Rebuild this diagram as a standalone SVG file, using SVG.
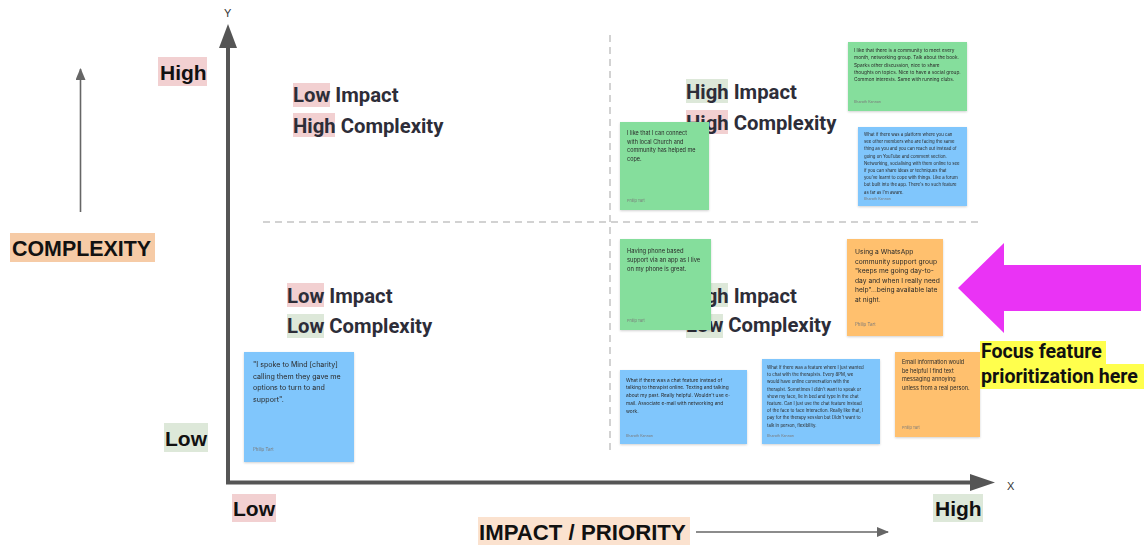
<svg xmlns="http://www.w3.org/2000/svg" width="1144" height="545" viewBox="0 0 1144 545">
  <defs>
    <filter id="shadow" x="-10%" y="-10%" width="120%" height="125%">
      <feDropShadow dx="0" dy="1" stdDeviation="1" flood-color="#000" flood-opacity="0.18"/>
    </filter>
    <marker id="head-small" viewBox="0 0 12 10" refX="11" refY="5" markerWidth="12" markerHeight="10" markerUnits="userSpaceOnUse" orient="auto">
      <path d="M0,0 L12,5 L0,10 Z" fill="#666"/>
    </marker>
  </defs>
  <style>
    .axis { stroke: #555; stroke-width: 4; fill: none; }
    .axis-head { fill: #555; }
    .thin { stroke: #666; stroke-width: 1.6; fill: none; }
    .grid { stroke: #d2d2d2; stroke-width: 2; stroke-dasharray: 7 5; fill: none; }
    .axis-label { font-family: "Liberation Sans", Arial, sans-serif; font-weight: 700; font-size: 21px; fill: #111; }
    .xy { font-family: "Liberation Sans", Arial, sans-serif; font-size: 11px; fill: #333; }
    .quad { font-family: Roboto, "Noto Sans", sans-serif; font-weight: 700; font-size: 20.3px; fill: #2d2d38; }
    .pink { fill: #f2d0d1; }
    .green { fill: #dde8d9; }
    .peach { fill: #f6cba6; }
    .peach-light { fill: #fbe2cf; }
    .note { filter: url(#shadow); }
    .n-green { fill: #85de9c; }
    .n-blue { fill: #80c6fc; }
    .n-orange { fill: #ffc06e; }
    .nt { font-family: Inter, "Noto Sans", sans-serif; fill: #2a2a2a; }
    .au { font-family: Inter, "Noto Sans", sans-serif; fill: #7a7a7a; }
    .focus { font-family: Roboto, "Noto Sans", sans-serif; font-weight: 700; font-size: 19.6px; fill: #111; }
  </style>

  <rect width="1144" height="545" fill="#ffffff"/>

  <!-- quadrant dividers -->
  <g id="grid">
    <line class="grid" x1="610" y1="35" x2="610" y2="455"/>
    <line class="grid" x1="263" y1="222" x2="980" y2="222"/>
  </g>

  <!-- quadrant titles -->
  <g id="quad-low-high">
    <rect class="pink" x="293" y="83" width="37" height="24"/>
    <rect class="pink" x="293" y="113" width="42" height="24"/>
    <text class="quad" x="293" y="102">Low Impact</text>
    <text class="quad" x="293" y="133">High Complexity</text>
  </g>
  <g id="quad-low-low">
    <rect class="pink" x="287" y="283" width="37" height="24"/>
    <rect class="green" x="287" y="314" width="37" height="24"/>
    <text class="quad" x="287" y="303">Low Impact</text>
    <text class="quad" x="287" y="333">Low Complexity</text>
  </g>
  <g id="quad-high-high">
    <rect class="green" x="686" y="79" width="42" height="24"/>
    <rect class="pink" x="686" y="110" width="42" height="24"/>
    <text class="quad" x="686" y="99">High Impact</text>
    <text class="quad" x="686" y="130">High Complexity</text>
  </g>
  <g id="quad-high-low">
    <rect class="green" x="686" y="283" width="42" height="24"/>
    <rect class="green" x="686" y="314" width="37" height="24"/>
    <text class="quad" x="686" y="303">High Impact</text>
    <text class="quad" x="686" y="332">Low Complexity</text>
  </g>

  <!-- axis labels -->
  <g id="label-complexity">
    <rect class="peach" x="10" y="233" width="145" height="29"/>
    <text class="axis-label" x="12" y="256" style="font-size:21.4px">COMPLEXITY</text>
  </g>
  <g id="label-y-high">
    <rect class="pink" x="158" y="57" width="49" height="29"/>
    <text class="axis-label" x="160" y="80">High</text>
  </g>
  <g id="label-y-low">
    <rect class="green" x="164" y="423" width="44" height="29"/>
    <text class="axis-label" x="165" y="446">Low</text>
  </g>
  <g id="label-x-low">
    <rect class="pink" x="232" y="494" width="44" height="28"/>
    <text class="axis-label" x="233" y="516">Low</text>
  </g>
  <g id="label-x-high">
    <rect class="green" x="933" y="494" width="50" height="28"/>
    <text class="axis-label" x="935" y="516">High</text>
  </g>
  <g id="label-impact">
    <rect class="peach-light" x="478" y="517" width="212" height="28"/>
    <text class="axis-label" x="479" y="540" style="font-size:22.2px">IMPACT / PRIORITY</text>
  </g>
  <text class="xy" x="224" y="17">Y</text>
  <text class="xy" x="1007" y="490">X</text>

  <!-- axes and direction arrows -->
  <g id="connectors">
    <path class="axis" d="M228,46 L228,482.5 L972,482.5"/>
    <path class="axis-head" d="M228,24 L237,48 L219,48 Z"/>
    <path class="axis-head" d="M995,482.5 L970,474 L970,491 Z"/>
    <line class="thin" x1="80.5" y1="212" x2="80.5" y2="69" marker-end="url(#head-small)"/>
    <line class="thin" x1="696" y1="532" x2="888" y2="532" marker-end="url(#head-small)"/>
  </g>

  <!-- sticky notes -->
  <g id="note-community" class="note">
    <rect class="n-green" x="848" y="42" width="119" height="69"/>
    <text class="nt" font-size="4.75">
      <tspan x="854" y="52">I like that there is a community to meet every</tspan>
      <tspan x="854" y="59.3">month, networking group. Talk about the book.</tspan>
      <tspan x="854" y="66.6">Sparks other discussion, nice to share</tspan>
      <tspan x="854" y="73.9">thoughts on topics. Nice to have a social group.</tspan>
      <tspan x="854" y="81.2">Common interests. Same with running clubs.</tspan>
    </text>
    <text class="au" font-size="3.6" x="854" y="103">Bharath Kannan</text>
  </g>

  <g id="note-platform" class="note">
    <rect class="n-blue" x="858" y="127" width="109" height="79"/>
    <text class="nt" font-size="4.3">
      <tspan x="864" y="136">What if there was a platform where you can</tspan>
      <tspan x="864" y="143.2">see other members who are facing the same</tspan>
      <tspan x="864" y="150.4">thing as you and you can reach out instead of</tspan>
      <tspan x="864" y="157.6">going on YouTube and comment section.</tspan>
      <tspan x="864" y="164.8">Networking, socialising with them online to see</tspan>
      <tspan x="864" y="172">if you can share ideas or techniques that</tspan>
      <tspan x="864" y="179.2">you've learnt to cope with things. Like a forum</tspan>
      <tspan x="864" y="186.4">but built into the app. There's no such feature</tspan>
      <tspan x="864" y="193.6">as far as I'm aware.</tspan>
    </text>
    <text class="au" font-size="3.6" x="864" y="200">Bharath Kannan</text>
  </g>

  <g id="note-church" class="note">
    <rect class="n-green" x="620" y="122" width="89" height="88"/>
    <text class="nt" font-size="5.5">
      <tspan x="627" y="135">I like that I can connect</tspan>
      <tspan x="627" y="143.7">with local Church and</tspan>
      <tspan x="627" y="152.4">community has helped me</tspan>
      <tspan x="627" y="161.1">cope.</tspan>
    </text>
    <text class="au" font-size="3.8" x="627" y="202">Philip Tart</text>
  </g>

  <g id="note-phone" class="note">
    <rect class="n-green" x="620" y="239" width="91" height="91"/>
    <text class="nt" font-size="5.8">
      <tspan x="627" y="253">Having phone based</tspan>
      <tspan x="627" y="262">support via an app as I live</tspan>
      <tspan x="627" y="271">on my phone is great.</tspan>
    </text>
    <text class="au" font-size="3.8" x="627" y="322">Philip Tart</text>
  </g>

  <g id="note-chat" class="note">
    <rect class="n-blue" x="620" y="370" width="127" height="74"/>
    <text class="nt" font-size="4.8">
      <tspan x="626" y="381.5">What if there was a chat feature instead of</tspan>
      <tspan x="626" y="389.3">talking to therapist online. Texting and talking</tspan>
      <tspan x="626" y="397.1">about my past. Really helpful. Wouldn't use e-</tspan>
      <tspan x="626" y="404.9">mail. Associate e-mail with networking and</tspan>
      <tspan x="626" y="412.7">work.</tspan>
    </text>
    <text class="au" font-size="3.6" x="626" y="437">Bharath Kannan</text>
  </g>

  <g id="note-therapists" class="note">
    <rect class="n-blue" x="762" y="359" width="118" height="85"/>
    <text class="nt" font-size="4.35">
      <tspan x="767" y="369">What if there was a feature where I just wanted</tspan>
      <tspan x="767" y="376.2">to chat with the therapists. Every 8PM, we</tspan>
      <tspan x="767" y="383.4">would have online conversation with the</tspan>
      <tspan x="767" y="390.6">therapist. Sometimes I didn't want to speak or</tspan>
      <tspan x="767" y="397.8">show my face, lie in bed and type in the chat</tspan>
      <tspan x="767" y="405">feature. Can I just use the chat feature instead</tspan>
      <tspan x="767" y="412.2">of the face to face interaction. Really like that, I</tspan>
      <tspan x="767" y="419.4">pay for the therapy session but Didn't want to</tspan>
      <tspan x="767" y="426.6">talk in person, flexibility.</tspan>
    </text>
    <text class="au" font-size="3.6" x="767" y="437">Bharath Kannan</text>
  </g>

  <g id="note-whatsapp" class="note">
    <rect class="n-orange" x="847" y="239" width="96" height="97"/>
    <text class="nt" font-size="6.7">
      <tspan x="855" y="254">Using a WhatsApp</tspan>
      <tspan x="855" y="263.6">community support group</tspan>
      <tspan x="855" y="273.2">"keeps me going day-to-</tspan>
      <tspan x="855" y="282.8">day and when I really need</tspan>
      <tspan x="855" y="292.4">help"...being available late</tspan>
      <tspan x="855" y="302">at night.</tspan>
    </text>
    <text class="au" font-size="4.4" x="855" y="326">Philip Tart</text>
  </g>

  <g id="note-email" class="note">
    <rect class="n-orange" x="895" y="352" width="85" height="85"/>
    <text class="nt" font-size="5.5">
      <tspan x="902" y="364">Email information would</tspan>
      <tspan x="902" y="372.5">be helpful I find text</tspan>
      <tspan x="902" y="381">messaging annoying</tspan>
      <tspan x="902" y="389.5">unless from a real person.</tspan>
    </text>
    <text class="au" font-size="3.8" x="902" y="429">Philip Tart</text>
  </g>

  <g id="note-mind" class="note">
    <rect class="n-blue" x="244" y="352" width="110" height="110"/>
    <text class="nt" font-size="7.1">
      <tspan x="253" y="367">"I spoke to Mind [charity]</tspan>
      <tspan x="253" y="378.5">calling them they gave me</tspan>
      <tspan x="253" y="390">options to turn to and</tspan>
      <tspan x="253" y="401.5">support".</tspan>
    </text>
    <text class="au" font-size="4.4" x="253" y="451">Philip Tart</text>
  </g>

  <!-- focus callout -->
  <g id="focus-arrow">
    <path d="M958,288 L1004,243 L1004,265 L1141,265 L1141,311 L1004,311 L1004,333 Z" fill="#ea33f5"/>
  </g>
  <g id="focus-label">
    <rect x="980" y="341" width="126" height="23" fill="#ffff4d"/>
    <rect x="980" y="364" width="164" height="25" fill="#ffff4d"/>
    <text class="focus" x="981" y="358">Focus feature</text>
    <text class="focus" x="981" y="383">prioritization here</text>
  </g>
</svg>
